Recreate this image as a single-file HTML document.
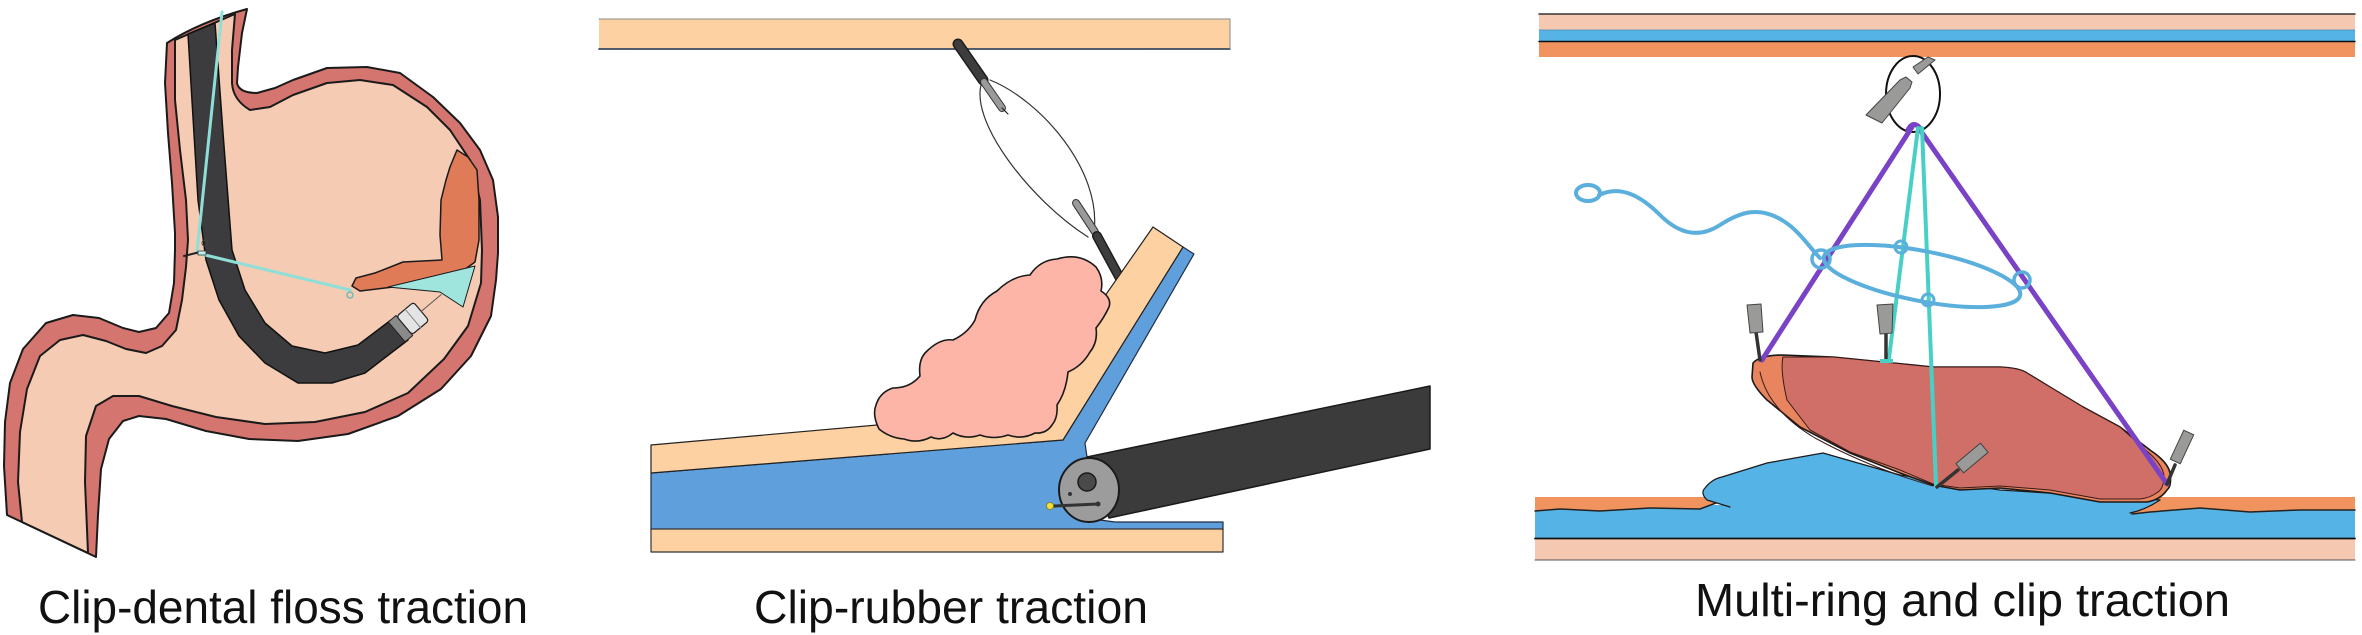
<!DOCTYPE html>
<html>
<head>
<meta charset="utf-8">
<style>
html,body{margin:0;padding:0;background:#fff;}
svg{display:block;}
</style>
</head>
<body>
<svg width="2362" height="635" viewBox="0 0 2362 635" xmlns="http://www.w3.org/2000/svg">
<rect x="0" y="0" width="2362" height="635" fill="#ffffff"/>

<!-- ================= PANEL 1 : stomach ================= -->
<g stroke-linejoin="round" stroke-linecap="round">
  <path d="M167,43 Q200,22 247,9 L242,33 L238,67 L237,83 Q239,93 257,93 L275,88 L293,80 L327,68 L367,67 L400,73 L433,97 L460,123 L480,150 L493,180 L498,217 L498,253 L496,280 L491,316 L471,356 L441,389 L398,416 L348,434 L298,441 L249,439 L206,431 L166,419 L139,416 L123,421 L109,439 L101,469 L98,515 L96,557 L7,515 L4,466 L5,422 L10,383 L23,349 L46,323 L73,315 L99,318 L123,328 L139,332 L156,328 L169,313 L174,283 L175,250 L175,233 L172,183 L168,133 L165,83 Z" fill="#d4756f" stroke="#1a1a1a" stroke-width="2"/>
  <path d="M175,40 L235,14 L232,50 L232,83 Q233,100 250,110 L270,107 L293,95 L327,83 L360,80 L393,85 L427,107 L450,130 L470,160 L480,200 L482,250 L481,283 L468,326 L444,359 L408,393 L365,412 L315,422 L265,424 L216,417 L172,406 L139,396 L113,396 L96,406 L86,436 L85,482 L88,553 L22,522 L18,482 L20,432 L27,389 L40,356 L60,340 L83,335 L106,341 L126,349 L146,353 L162,346 L176,330 L182,300 L186,267 L188,240 L186,200 L180,150 L175,100 Z" fill="#f5cbb3" stroke="#1a1a1a" stroke-width="2"/>
  <!-- lesion -->
  <polygon points="457,150 468,157 477,170 479,200 479,240 475,262 460,273 427,283 393,287 360,291 352,286 356,278 375,273 403,262 442,260 440,235 441,200 446,180 450,167" fill="#e07b58" stroke="#1a1a1a" stroke-width="1.5"/>
  <polygon points="388,287 475,266 463,307 440,292" fill="#a0e4de" stroke="#1a1a1a" stroke-width="1"/>
  <!-- endoscope -->
  <path d="M188,34 L215,23 L223,133 L232,250 L245,290 L265,323 L292,346 L325,353 L358,345 L391,320 L408,340 L391,353 L365,373 L332,383 L298,383 L265,363 L239,336 L219,300 L206,260 L198,200 Z" fill="#3c3c3e" stroke="#111" stroke-width="1.5"/>
  <g transform="translate(399,330) rotate(-40)">
    <rect x="-3" y="-13" width="10" height="26" fill="#8a8a8a" stroke="#222" stroke-width="1"/>
    <rect x="7" y="-12" width="22" height="24" rx="3" fill="#e4e4e4" stroke="#222" stroke-width="1.2"/>
    <line x1="18" y1="-12" x2="18" y2="12" stroke="#888" stroke-width="1"/>
    <line x1="29" y1="0" x2="55" y2="0" stroke="#555" stroke-width="1"/>
  </g>
  <!-- floss -->
  <line x1="222" y1="12" x2="197" y2="252" stroke="#8fdfd9" stroke-width="3"/>
  <line x1="197" y1="253" x2="350" y2="290" stroke="#8fdfd9" stroke-width="3"/>
  <circle cx="350" cy="295" r="3" fill="none" stroke="#6bbdb8" stroke-width="1.5"/>
  <circle cx="205" cy="243" r="3" fill="none" stroke="#444" stroke-width="1"/>
  <line x1="184" y1="256" x2="200" y2="252" stroke="#222" stroke-width="2"/>
  <rect x="198" y="251" width="8" height="4" fill="#bfeeea" stroke="#333" stroke-width="0.8"/>
</g>

<!-- ================= PANEL 2 : clip-rubber ================= -->
<g stroke-linejoin="round" stroke-linecap="round">
  <rect x="599" y="19" width="631" height="30" fill="#fdd1a1"/>
  <line x1="599" y1="19" x2="1230" y2="19" stroke="#8a8a8a" stroke-width="1"/>
  <line x1="599" y1="49" x2="1230" y2="49" stroke="#3a4a60" stroke-width="1.8"/>
  <line x1="1230" y1="19" x2="1230" y2="49" stroke="#8a8a8a" stroke-width="1"/>
  <path d="M982,82 C968,120 1030,200 1088,237" fill="none" stroke="#333" stroke-width="1.2"/>
  <path d="M990,80 C1040,100 1102,170 1094,232" fill="none" stroke="#333" stroke-width="1.2"/>
  <line x1="958" y1="44" x2="983" y2="80" stroke="#1d1d1d" stroke-width="11"/>
  <line x1="958" y1="44" x2="983" y2="80" stroke="#3d3d3d" stroke-width="8"/>
  <line x1="984" y1="82" x2="1002" y2="108" stroke="#333" stroke-width="8"/>
  <line x1="984" y1="82" x2="1002" y2="108" stroke="#9a9a9a" stroke-width="6"/>
  <line x1="1002" y1="108" x2="1008" y2="114" stroke="#222" stroke-width="1.2"/>
  <line x1="1076" y1="203" x2="1095" y2="232" stroke="#333" stroke-width="8"/>
  <line x1="1076" y1="203" x2="1095" y2="232" stroke="#9a9a9a" stroke-width="6"/>
  <line x1="1097" y1="236" x2="1122" y2="282" stroke="#1d1d1d" stroke-width="10"/>
  <line x1="1097" y1="236" x2="1122" y2="282" stroke="#3d3d3d" stroke-width="7"/>
  <polygon points="651,473 1063,440 1183,247 1194,254 1085,443 1087,457 1100,520 1115,522 1223,522 1223,530 651,530" fill="#5f9fdc" stroke="#1f2d45" stroke-width="1.2"/>
  <polygon points="651,445 1024,412 1153,227 1183,247 1063,440 651,473" fill="#fdd1a1" stroke="#222" stroke-width="1.2"/>
  <rect x="651" y="529" width="572" height="23" fill="#fdd1a1" stroke="#333" stroke-width="1.2"/>
  <path d="M879,429 Q872,415 876,405 Q880,392 893,388 Q910,388 920,376 Q918,360 926,352 Q940,338 953,340 Q968,333 975,320 Q980,300 997,291 Q1012,276 1030,275 Q1040,260 1057,259 Q1080,252 1096,267 Q1104,278 1101,291 Q1112,298 1109,307 Q1104,318 1096,328 Q1098,342 1090,352 Q1082,366 1068,372 Q1066,392 1057,405 Q1058,418 1052,425 Q1046,434 1035,433 Q1022,440 1008,435 Q994,440 980,435 Q966,440 953,433 Q942,442 931,437 Q918,444 904,439 Q890,438 879,429 Z" fill="#fcb5a7" stroke="#1a1a1a" stroke-width="1.6"/>
  <polygon points="1087,457 1430,386 1430,449 1109,518" fill="#3b3b3b" stroke="#1a1a1a" stroke-width="1.5"/>
  <ellipse cx="1089" cy="490" rx="30" ry="32" fill="#9c9c9c" stroke="#1a1a1a" stroke-width="2"/>
  <circle cx="1087" cy="482" r="9" fill="#4a4a4a" stroke="#1a1a1a" stroke-width="1.5"/>
  <circle cx="1070" cy="494" r="2" fill="#333"/>
  <line x1="1054" y1="506" x2="1098" y2="504" stroke="#333" stroke-width="3"/>
  <circle cx="1098" cy="504" r="2.5" fill="#333"/>
  <circle cx="1050" cy="506" r="3.5" fill="#f2e03c" stroke="#8a7a10" stroke-width="0.8"/>
</g>

<!-- ================= PANEL 3 : multi-ring ================= -->
<g stroke-linejoin="round" stroke-linecap="round">
  <rect x="1539" y="14" width="816" height="16" fill="#f5c8b2"/>
  <rect x="1539" y="30" width="816" height="11" fill="#56b3e6"/>
  <rect x="1539" y="42" width="816" height="15" fill="#f0935e"/>
  <line x1="1539" y1="14" x2="2355" y2="14" stroke="#333" stroke-width="1.5"/>
  <line x1="1539" y1="41.5" x2="2355" y2="41.5" stroke="#111" stroke-width="1.5"/>
  <line x1="1539" y1="30" x2="2355" y2="30" stroke="#4a8ab0" stroke-width="0.8"/>

  <rect x="1535" y="539" width="820" height="21" fill="#f5c8b2"/>
  <line x1="1535" y1="560" x2="2355" y2="560" stroke="#555" stroke-width="1"/>
  <rect x="1535" y="505" width="820" height="33" fill="#56b3e6"/>
  <line x1="1535" y1="538.5" x2="2355" y2="538.5" stroke="#111" stroke-width="1.8"/>
  <polygon points="1535,497 1712,497 1716,503 1700,509 1650,508 1600,511 1560,509 1535,511" fill="#f0935e"/>
  <polyline points="1535,511 1560,509 1600,511 1650,508 1700,509 1716,503" fill="none" stroke="#222" stroke-width="1.5"/>
  <polygon points="2143,497 2355,497 2355,510 2300,510 2250,512 2200,508 2150,512 2132,514" fill="#f0935e"/>
  <polyline points="2132,514 2150,512 2200,508 2250,512 2300,510 2355,510" fill="none" stroke="#222" stroke-width="1.5"/>

  <!-- fluid blob -->
  <path d="M1730,507 L1707,500 Q1700,493 1705,488 Q1712,479 1722,477 L1767,463 L1823,453 L1900,475 L2000,490 L2160,500 Q2145,510 2130,513" fill="#56b3e6" stroke="#1a1a1a" stroke-width="1.2"/>

  <!-- lesion outer rim -->
  <path d="M1753,363 Q1760,355 1783,355 L1833,357 L1883,362 L1933,367 L2000,367 Q2020,368 2027,373 L2050,387 L2083,407 L2120,427 L2150,450 Q2168,462 2170,473 Q2172,486 2167,490 Q2160,500 2147,502 L2100,502 L2050,493 L2000,488 L1960,490 L1933,485 L1900,473 L1850,453 L1800,427 L1767,400 Q1752,385 1752,377 Z" fill="#e8855e" stroke="#1a1a1a" stroke-width="1.6"/>
  <!-- lesion inner -->
  <path d="M1783,357 L1833,357 L1883,362 L1933,367 L2000,367 Q2020,368 2027,373 L2050,387 L2083,407 L2120,427 L2148,452 Q2163,465 2164,476 Q2164,488 2158,492 Q2150,498 2140,499 L2100,499 L2050,490 L2000,486 L1960,488 L1933,484 L1900,470 L1850,452 L1810,430 L1787,400 Q1780,370 1783,357 Z" fill="#d06f67" stroke="#3a1a18" stroke-width="1"/>
  <path d="M1760,372 Q1768,410 1815,438 Q1870,468 1933,486" fill="none" stroke="#3a1a18" stroke-width="1"/>

  <!-- top ring and clips -->
  <ellipse cx="1913" cy="94" rx="27" ry="38" fill="none" stroke="#111" stroke-width="2"/>
  <polygon points="1913,67 1918,74 1935,60 1928,57" fill="#9a9a98" stroke="#444" stroke-width="1"/>
  <polygon points="1866,115 1882,123 1910,88 1912,82 1906,77 1900,80" fill="#9a9a98" stroke="#444" stroke-width="1"/>

  <!-- threads -->
  <line x1="1912" y1="127" x2="1762" y2="360" stroke="#7a42c4" stroke-width="5"/>
  <line x1="1918" y1="127" x2="2167" y2="484" stroke="#7a42c4" stroke-width="5"/>
  <path d="M1908,130 Q1913,120 1920,128" fill="none" stroke="#7a42c4" stroke-width="5"/>
  <line x1="1918" y1="128" x2="1889" y2="358" stroke="#48d0c6" stroke-width="4"/>
  <line x1="1922" y1="128" x2="1936" y2="485" stroke="#48d0c6" stroke-width="4"/>

  <!-- blue multi-ring string -->
  <ellipse cx="1588" cy="193" rx="12" ry="8" fill="none" stroke="#5aafdc" stroke-width="4"/>
  <path d="M1599,195 C1620,185 1640,195 1660,215 C1680,235 1700,238 1720,225 C1740,212 1760,205 1785,222 C1800,232 1810,248 1820,258" fill="none" stroke="#5aafdc" stroke-width="4"/>
  <ellipse cx="1922" cy="276" rx="100" ry="25" transform="rotate(11 1922 276)" fill="none" stroke="#5aafdc" stroke-width="4"/>
  <circle cx="1821" cy="259" r="9" fill="none" stroke="#5aafdc" stroke-width="3.5"/>
  <circle cx="2022" cy="280" r="8" fill="none" stroke="#5aafdc" stroke-width="3.5"/>
  <circle cx="1901" cy="247" r="6" fill="none" stroke="#5aafdc" stroke-width="3"/>
  <circle cx="1928" cy="300" r="6" fill="none" stroke="#5aafdc" stroke-width="3"/>

  <!-- clips on lesion -->
  <line x1="1756" y1="332" x2="1760" y2="360" stroke="#333" stroke-width="3.5"/>
  <polygon points="1747,305 1761,304 1763,332 1750,333" fill="#9a9a98" stroke="#444" stroke-width="1"/>
  <line x1="1886" y1="332" x2="1886" y2="360" stroke="#333" stroke-width="3.5"/>
  <polygon points="1877,305 1893,304 1892,333 1880,334" fill="#9a9a98" stroke="#444" stroke-width="1"/>
  <rect x="1880" y="359" width="13" height="4" fill="#48d0c6"/>
  <line x1="1958" y1="470" x2="1937" y2="487" stroke="#333" stroke-width="3.5"/>
  <g transform="translate(1972,458) rotate(-40)">
    <rect x="-16" y="-6" width="32" height="12" fill="#9a9a98" stroke="#444" stroke-width="1"/>
  </g>
  <line x1="2175" y1="465" x2="2167" y2="484" stroke="#333" stroke-width="3.5"/>
  <g transform="translate(2182,447) rotate(-65)">
    <rect x="-16" y="-5.5" width="32" height="11" fill="#9a9a98" stroke="#444" stroke-width="1"/>
  </g>
</g>

<!-- ================= LABELS ================= -->
<g font-family="'Liberation Sans', 'DejaVu Sans', sans-serif" font-size="46" fill="#111">
  <text x="38" y="623" textLength="490" lengthAdjust="spacingAndGlyphs">Clip-dental floss traction</text>
  <text x="754" y="623" textLength="394" lengthAdjust="spacingAndGlyphs">Clip-rubber traction</text>
  <text x="1695" y="616" textLength="535" lengthAdjust="spacingAndGlyphs">Multi-ring and clip traction</text>
</g>
</svg>
</body>
</html>
